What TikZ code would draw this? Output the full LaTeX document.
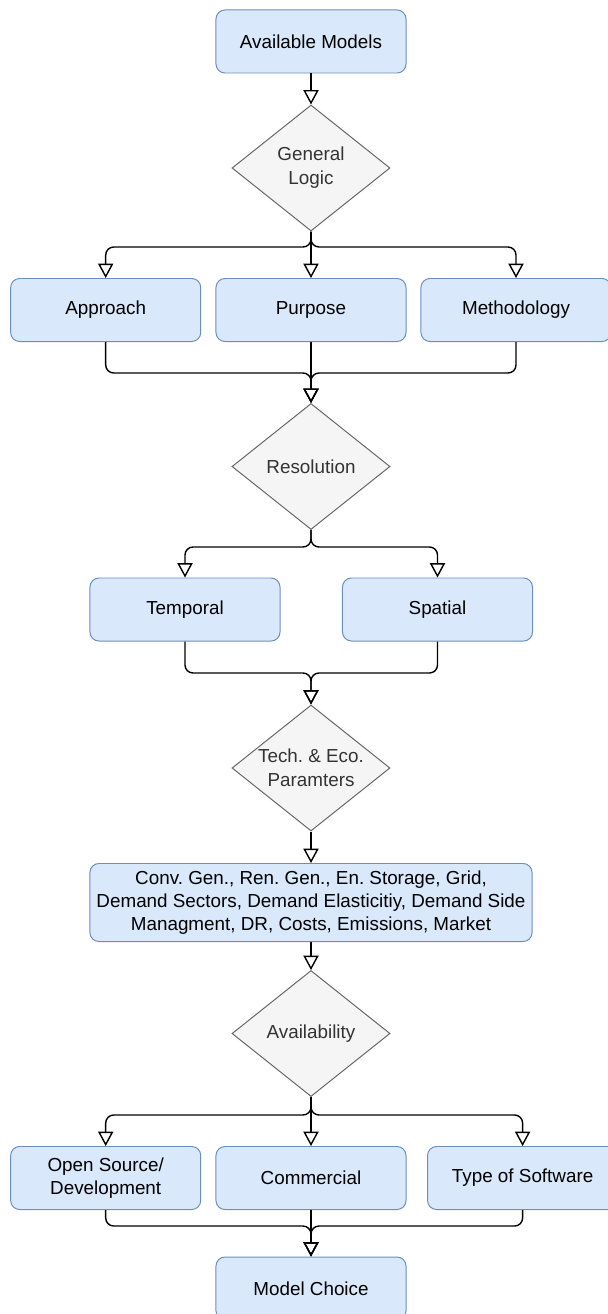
\documentclass[tikz,border=0pt]{standalone}
\usepackage{fontspec}
\setmainfont{Liberation Sans}
\usepackage{tikz}
\usetikzlibrary{arrows.meta,shapes.geometric,positioning}
\definecolor{boxfill}{HTML}{DAE8FC}
\definecolor{boxline}{HTML}{6C8EBF}
\definecolor{decfill}{HTML}{F5F5F5}
\definecolor{decline}{HTML}{666666}
\definecolor{dectext}{HTML}{333333}
\frenchspacing
\tikzset{
  box/.style={rectangle, rounded corners=0.225cm, draw=boxline, fill=boxfill,
    line width=0.7pt, minimum width=4.75cm, minimum height=1.575cm,
    align=center, font=\fontsize{13.4}{16.2}\selectfont},
  decision/.style={diamond, aspect=1.25, draw=decline, fill=decfill,
    text=dectext, line width=0.7pt, inner sep=0pt, minimum width=3.95cm,
    minimum height=3.15cm, align=center, font=\fontsize{13.4}{17}\selectfont},
  flow/.style={draw, line width=1pt, rounded corners=0.2cm,
    -{Triangle[open,length=0.36cm,width=0.38cm]}}
}

\begin{document}
\begin{tikzpicture}[x=0.025cm,y=-0.025cm]
\useasboundingbox (0,0) rectangle (607,1314);

\node[box] (models) at (311,41.5) {Available Models};
\node[decision] (logic) at (311,168) {General\\Logic};
\node[box] (approach) at (105.7,310) {Approach};
\node[box] (purpose) at (311,310) {Purpose};
\node[box] (method) at (516,310) {Methodology};
\node[decision] (resol) at (311,466.5) {Resolution};
\node[box] (temporal) at (185,609.5) {Temporal};
\node[box] (spatial) at (437.5,609.5) {Spatial};
\node[decision] (techeco) at (311,768) {Tech. \& Eco.\\Paramters};
\node[box, minimum width=11.05cm, minimum height=1.95cm] (params) at (311,902.5)
  {Conv. Gen., Ren. Gen., En. Storage, Grid,\\
   Demand Sectors, Demand Elasticitiy, Demand Side\\
   Managment, DR, Costs, Emissions, Market};
\node[decision] (avail) at (311,1033.5) {Availability};
\node[box] (open) at (105.7,1178) {Open Source/\\Development};
\node[box] (commercial) at (311,1178) {Commercial};
\node[box] (software) at (522.6,1178) {Type of Software};
\node[box] (choice) at (311,1288.5) {Model Choice};

% branch and merge points
\coordinate (b1) at (311,247);
\coordinate (m1) at (311,373);
\coordinate (b2) at (311,547);
\coordinate (m2) at (311,673);
\coordinate (b3) at (311,1115);
\coordinate (m3) at (311,1226);

\draw[flow] (models) -- (logic);
\draw[flow] (logic.south) -- (b1) -| (approach.north);
\draw[flow] (logic) -- (purpose);
\draw[flow] (logic.south) -- (b1) -| (method.north);
\draw[flow] (approach.south) |- (m1) -- (resol.north);
\draw[flow] (purpose) -- (resol);
\draw[flow] (method.south) |- (m1) -- (resol.north);

\draw[flow] (resol.south) -- (b2) -| (temporal.north);
\draw[flow] (resol.south) -- (b2) -| (spatial.north);
\draw[flow] (temporal.south) |- (m2) -- (techeco.north);
\draw[flow] (spatial.south) |- (m2) -- (techeco.north);

\draw[flow] (techeco) -- (params);
\draw[flow] (params) -- (avail);

\draw[flow] (avail.south) -- (b3) -| (open.north);
\draw[flow] (avail) -- (commercial);
\draw[flow] (avail.south) -- (b3) -| (software.north);
\draw[flow] (open.south) |- (m3) -- (choice.north);
\draw[flow] (commercial) -- (choice);
\draw[flow] (software.south) |- (m3) -- (choice.north);
\end{tikzpicture}
\end{document}
